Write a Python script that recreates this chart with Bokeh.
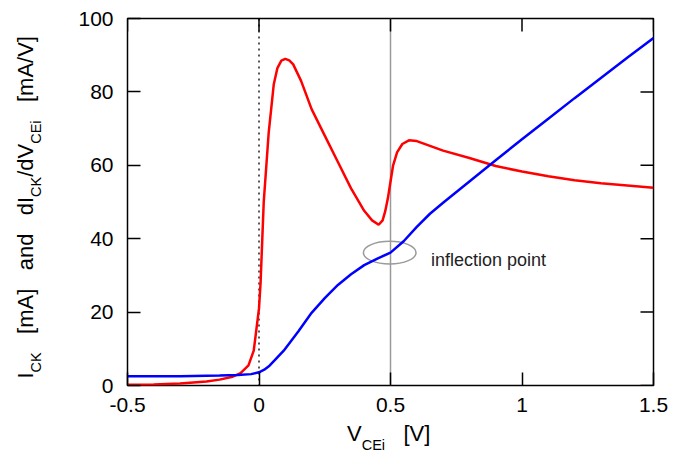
from bokeh.plotting import figure
from bokeh.models import Span, Label, FixedTicker, Range1d, LinearAxis
from bokeh.embed import file_html
from bokeh.resources import INLINE

# ---------------- data ----------------
v_red = [-0.5, -0.4, -0.3, -0.2, -0.15, -0.1, -0.07, -0.04, -0.02, 0.0, 0.006, 0.018,
         0.037, 0.056, 0.07, 0.085, 0.1, 0.115, 0.13, 0.16, 0.2, 0.25, 0.3, 0.35, 0.4,
         0.43, 0.455, 0.47, 0.48, 0.49, 0.5, 0.51, 0.525, 0.545, 0.57, 0.6, 0.7, 0.8,
         0.9, 1.0, 1.1, 1.2, 1.3, 1.4, 1.5]
dick_dvcei = [0.2, 0.3, 0.55, 1.1, 1.6, 2.4, 3.4, 5.5, 9.5, 21.0, 28.0, 50.0,
              69.0, 82.0, 86.5, 88.5, 89.0, 88.6, 87.5, 83.0, 75.3, 68.1, 60.9, 53.7, 47.6,
              45.0, 43.8, 45.0, 47.5, 51.0, 55.5, 60.0, 63.5, 65.8, 66.8, 66.6, 64.0, 62.0,
              59.8, 58.3, 57.0, 55.9, 55.1, 54.5, 53.9]

v_blue = [-0.5, -0.3, -0.15, -0.08, -0.03, 0.0, 0.02, 0.04, 0.06, 0.094, 0.15, 0.2,
          0.25, 0.3, 0.35, 0.4, 0.45, 0.5, 0.55, 0.6, 0.65, 0.7, 0.8, 0.9, 1.0, 1.1,
          1.2, 1.3, 1.4, 1.5]
i_ck = [2.5, 2.55, 2.7, 2.85, 3.1, 3.6, 4.3, 5.4, 6.9, 9.5, 14.8, 19.8,
        23.8, 27.4, 30.3, 32.8, 34.6, 36.2, 39.3, 43.2, 46.8, 49.8, 55.6, 61.4, 67.1, 72.7,
        78.3, 83.8, 89.3, 94.7]

x_ticks = [-0.5, 0, 0.5, 1, 1.5]
x_tick_labels = ["-0.5", "0", "0.5", "1", "1.5"]
y_ticks = [0, 20, 40, 60, 80, 100]
y_tick_labels = ["0", "20", "40", "60", "80", "100"]

inflection_v = 0.497
inflection_i = 36.2
inflection_w = 0.2
inflection_h = 6.2
inflection_text = "inflection point"

# axis titles: (text, is_subscript); blank tokens only advance the pen
x_label_parts = [("V", False), ("CEi", True), ("   ", False), ("[V]", False)]
y_label_parts = [("I", False), ("CK", True), ("   ", False), ("[mA]", False),
                 ("   ", False), ("and", False), ("   ", False), ("dI", False),
                 ("CK", True), ("/dV", False), ("CEi", True), ("   ", False),
                 ("[mA/V]", False)]

# ---------------- layout ----------------
W, H = 677, 455
FL, FR, FT, FB = 127, 653, 18, 385
X0, X1, Y0, Y1 = -0.5, 1.5, 0.0, 100.0
FONT = "Liberation Sans"
MAIN_PX = 22
SUB_PX = 14.5
TICK_PX = 13

ADV = {' ': 0.278, '[': 0.278, ']': 0.278, 'm': 0.833, 'A': 0.667, '/': 0.278,
       'V': 0.667, 'a': 0.556, 'n': 0.556, 'd': 0.556, 'I': 0.278, 'C': 0.722,
       'K': 0.667, 'E': 0.667, 'i': 0.222}

def width(s, size):
    return sum(ADV.get(c, 0.556) for c in s) * size

def X(px):
    return X0 + (px - FL) * (X1 - X0) / (FR - FL)

def Y(py):
    return Y0 + (FB - py) * (Y1 - Y0) / (FB - FT)

p = figure(width=W, height=H, x_range=Range1d(X0, X1), y_range=Range1d(Y0, Y1),
           output_backend="svg", toolbar_location=None,
           min_border_left=FL, min_border_right=W - FR,
           min_border_top=FT, min_border_bottom=H - FB)
p.xgrid.visible = False
p.ygrid.visible = False
p.outline_line_color = "black"
p.outline_line_width = 1.5
p.background_fill_color = "white"
p.border_fill_color = "white"

def style_axis(ax, ticks, labels):
    ax.ticker = FixedTicker(ticks=ticks)
    ax.axis_line_color = None
    ax.major_tick_in = TICK_PX
    ax.major_tick_out = 0
    ax.minor_tick_line_color = None
    ax.major_tick_line_color = "black"
    ax.major_tick_line_width = 1.5
    ax.major_label_text_font = FONT
    ax.major_label_text_color = "black"
    ax.major_label_text_font_size = "21px"
    ax.major_label_overrides = {t: l for t, l in zip(ticks, labels)}

style_axis(p.xaxis[0], x_ticks, x_tick_labels)
style_axis(p.yaxis[0], y_ticks, y_tick_labels)
p.xaxis[0].major_label_standoff = 12
p.yaxis[0].major_label_standoff = 14

def title_axis(ticks, texts, size, standoff, vertical):
    ax = LinearAxis()
    ax.ticker = FixedTicker(ticks=ticks)
    ax.major_label_overrides = {t: s for t, s in zip(ticks, texts)}
    ax.axis_line_color = None
    ax.major_tick_line_color = None
    ax.minor_tick_line_color = None
    ax.major_tick_in = 0
    ax.major_tick_out = 0
    ax.minor_tick_in = 0
    ax.minor_tick_out = 0
    ax.major_label_text_font = FONT
    ax.major_label_text_color = "black"
    ax.major_label_text_font_size = f"{size}px"
    ax.major_label_standoff = standoff
    if vertical:
        ax.major_label_orientation = "vertical"
    return ax

def place(parts, start, step_sign, to_data):
    main_c, main_t, sub_c, sub_t = [], [], [], []
    pos = start
    for s, sub in parts:
        size = SUB_PX if sub else MAIN_PX
        w = width(s, size)
        if s.strip():
            centre = to_data(pos + step_sign * w / 2.0)
            if sub:
                sub_c.append(centre); sub_t.append(s)
            else:
                main_c.append(centre); main_t.append(s)
        pos += step_sign * w
    return main_c, main_t, sub_c, sub_t

# x title: reads left to right
xm_c, xm_t, xs_c, xs_t = place(x_label_parts, 346.5, 1, X)
p.add_layout(title_axis(xm_c, xm_t, MAIN_PX, 6, False), "below")
p.add_layout(title_axis(xs_c, xs_t, SUB_PX, -12, False), "below")

# y title: reads upwards from the bottom
ym_c, ym_t, ys_c, ys_t = place(y_label_parts, 378.0, -1, Y)
p.add_layout(title_axis(ys_c, ys_t, SUB_PX, 31, True), "left")
p.add_layout(title_axis(ym_c, ym_t, MAIN_PX, -13, True), "left")

# mirrored inward ticks on top and right border
dy_tick = TICK_PX * (Y1 - Y0) / (FB - FT)
dx_tick = TICK_PX * (X1 - X0) / (FR - FL)
p.segment(x0=x_ticks, x1=x_ticks, y0=[Y1] * len(x_ticks), y1=[Y1 - dy_tick] * len(x_ticks),
          line_color="black", line_width=1.5)
p.segment(x0=[X1] * len(y_ticks), x1=[X1 - dx_tick] * len(y_ticks), y0=y_ticks, y1=y_ticks,
          line_color="black", line_width=1.5)

# reference lines
p.add_layout(Span(location=0, dimension="height", line_color="black",
                  line_width=1.3, line_dash="2 4", level="underlay"))
p.add_layout(Span(location=0.5, dimension="height", line_color="#9a9a9a",
                  line_width=1.5, level="underlay"))

# inflection ellipse
p.ellipse(x=[inflection_v], y=[inflection_i], width=[inflection_w], height=[inflection_h],
          fill_color=None, line_color="#9a9a9a", line_width=1.5)

# curves
p.line(v_red, dick_dvcei, line_color="#ff0000", line_width=2.5)
p.line(v_blue, i_ck, line_color="#0000ff", line_width=2.5)

p.add_layout(Label(x=X(430.5), y=Y(259), text=inflection_text, text_font=FONT,
                   text_font_size="18px", text_color="#222222",
                   text_baseline="alphabetic", text_align="left"))

open("out.html", "w").write(file_html(p, INLINE))
